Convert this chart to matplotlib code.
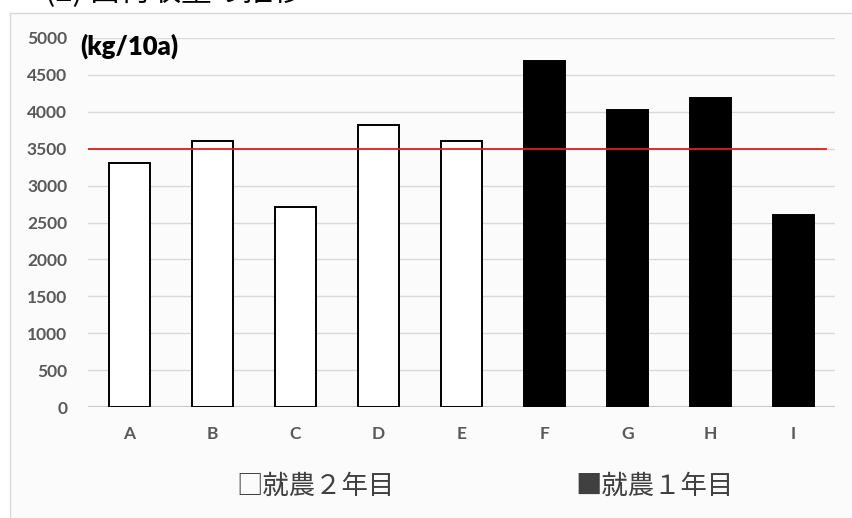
import matplotlib
matplotlib.use("Agg")
import matplotlib.pyplot as plt
from matplotlib.patches import Rectangle

categories = ["A", "B", "C", "D", "E", "F", "G", "H", "I"]
values = [3300, 3600, 2710, 3820, 3600, 4690, 4020, 4190, 2600]
group = ["2", "2", "2", "2", "2", "1", "1", "1", "1"]  # 就農年数
target = 3500
yticks = [0, 500, 1000, 1500, 2000, 2500, 3000, 3500, 4000, 4500, 5000]
unit_label = "(kg/10a)"
legend_labels = ["□就農２年目", "■就農１年目"]
title_text = "(2) 出荷収量の推移"

W, H = 852, 518
fig = plt.figure(figsize=(W / 100, H / 100), dpi=100)
fig.patch.set_facecolor("white")

# chart area background with border
bg = Rectangle((10 / W, -0.01), 1.0, (H - 13) / H + 0.01,
               transform=fig.transFigure, facecolor="#fbfbfb",
               edgecolor="#d9d9d9", linewidth=1.0, zorder=-10)
fig.patches.append(bg)

ax = fig.add_axes([88 / W, 1 - 407 / H, (835 - 88) / W, (407 - 38) / H])
ax.set_facecolor("none")
ax.set_zorder(5)

x = list(range(len(categories)))
faces = ["white" if g == "2" else "black" for g in group]
ax.bar(x, values, width=0.5, color=faces, edgecolor="black", linewidth=1.4, zorder=3)

ax.axhline(target, xmin=0.0, xmax=0.988, color="#e8191a", linewidth=1.3, zorder=4)

ax.set_xlim(-0.5, 8.5)
ax.set_ylim(0, 5000)
ax.set_yticks(yticks)
ax.set_yticklabels([str(v) for v in yticks], fontsize=12.5, fontweight="bold",
                   color="#595959", family="Lato")
ax.set_xticks(x)
ax.set_xticklabels(categories, fontsize=12.5, fontweight="bold", color="#595959",
                   family="Lato")
ax.tick_params(axis="both", length=0)
ax.tick_params(axis="y", pad=15)
ax.tick_params(axis="x", pad=14)
ax.grid(axis="y", color="#d9d9d9", linewidth=1.0, zorder=0)
ax.set_axisbelow(True)
for s in ax.spines.values():
    s.set_visible(False)
ax.axhline(0, color="#c8c8c8", linewidth=1.5, zorder=2)

fig.text(80 / W, 1 - 46 / H, unit_label, fontsize=18.5, fontweight="heavy",
         color="black", family="Lato", va="center", ha="left", zorder=10)

fig.text(315 / W, 1 - 486 / H, legend_labels[0], fontsize=19, color="#404040",
         family=["Noto Sans CJK JP", "DejaVu Sans"], ha="center", va="center")
fig.text(654 / W, 1 - 486 / H, legend_labels[1], fontsize=19, color="#404040",
         family=["Noto Sans CJK JP", "DejaVu Sans"], ha="center", va="center")

# partially visible heading above the chart (cut off at the top, as in the source)
fig.text(45 / W, 1 + 8 / H, title_text, fontsize=22, color="black",
         family=["Noto Sans CJK JP", "DejaVu Sans"], ha="left", va="center")

fig.savefig("out.png", dpi=100, facecolor="white")
